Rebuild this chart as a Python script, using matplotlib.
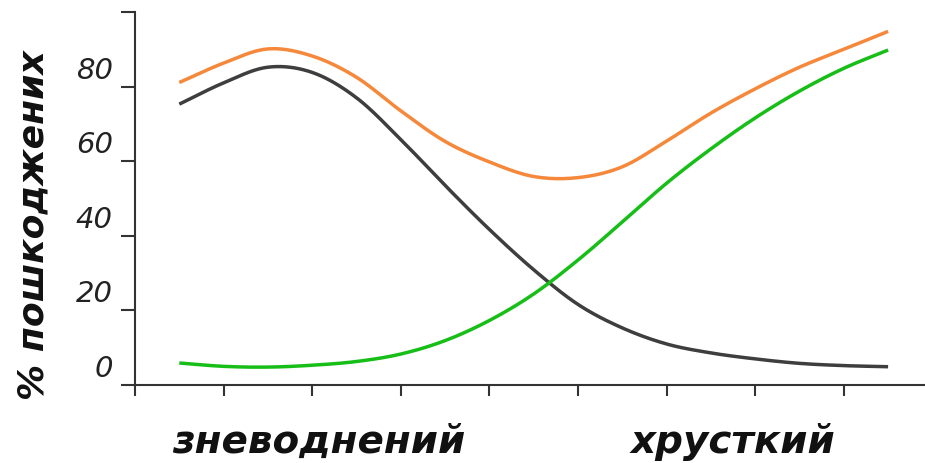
import numpy as np
import matplotlib
matplotlib.use("Agg")
import matplotlib.pyplot as plt
from matplotlib.transforms import ScaledTranslation

# ---------------------------------------------------------
# DATA
# x in tick units: 0 .. 8 are the unlabeled x ticks
# ---------------------------------------------------------
x_pos = [0.5, 1.0, 1.5, 2.0, 2.5, 3.0, 3.5, 4.0, 4.5,
         5.0, 5.5, 6.0, 6.5, 7.0, 7.5, 8.0, 8.5]

orange_vals = [81.1, 86.3, 90.1, 88.2, 82.5, 73.5, 65.3, 59.8, 55.9,
               55.6, 58.5, 65.4, 72.9, 79.4, 85.2, 90.0, 94.8]
black_vals = [75.3, 81.0, 85.2, 83.8, 77.0, 65.8, 53.5, 41.7, 30.9,
              21.6, 15.3, 11.0, 8.6, 7.0, 5.8, 5.2, 4.9]
green_vals = [5.9, 5.0, 4.8, 5.3, 6.3, 8.3, 11.9, 17.3, 24.4,
              33.5, 43.7, 54.1, 63.3, 71.6, 78.8, 84.9, 89.8]

y_ticks = [0, 20, 40, 60, 80, 100]
y_tick_labels = ["0", "20", "40", "60", "80", ""]
x_ticks = [0, 1, 2, 3, 4, 5, 6, 7, 8]

y_title = "% пошкоджених"
left_label = "зневоднений"
right_label = "хрусткий"

ORANGE = "#F5883A"
BLACK = "#3E3E3E"
GREEN = "#18BE18"
AXIS = "#333333"

FONT = ["DejaVu Sans"]


def smooth(xs, ys, n=20):
    # Catmull-Rom curve through the read points (drawing only)
    xs = np.asarray(xs, float)
    ys = np.asarray(ys, float)
    px = np.concatenate([[2 * xs[0] - xs[1]], xs, [2 * xs[-1] - xs[-2]]])
    py = np.concatenate([[2 * ys[0] - ys[1]], ys, [2 * ys[-1] - ys[-2]]])
    out_x, out_y = [], []
    t = np.linspace(0, 1, n, endpoint=False)
    for i in range(1, len(px) - 2):
        for arr, out in ((px, out_x), (py, out_y)):
            p0, p1, p2, p3 = arr[i - 1], arr[i], arr[i + 1], arr[i + 2]
            out.extend(0.5 * (2 * p1 + (-p0 + p2) * t
                              + (2 * p0 - 5 * p1 + 4 * p2 - p3) * t ** 2
                              + (-p0 + 3 * p1 - 3 * p2 + p3) * t ** 3))
    out_x.append(xs[-1])
    out_y.append(ys[-1])
    return np.array(out_x), np.array(out_y)


fig = plt.figure(figsize=(9.25, 4.63), dpi=100, facecolor="white")
ax = fig.add_axes([135 / 925, 1 - 385 / 463, 1 - 135 / 925, (385 - 12) / 463])

for vals, col in ((orange_vals, ORANGE), (black_vals, BLACK), (green_vals, GREEN)):
    sx, sy = smooth(x_pos, vals)
    ax.plot(sx, sy, color=col, linewidth=2.5, solid_capstyle="butt")

ax.set_xlim(0, (925 - 135) / 88.6)
ax.set_ylim(0, 100)

for side in ("top", "right"):
    ax.spines[side].set_visible(False)
for side in ("left", "bottom"):
    ax.spines[side].set_color(AXIS)
    ax.spines[side].set_linewidth(1.5)

ax.set_xticks(x_ticks)
ax.set_xticklabels([])
ax.tick_params(axis="x", direction="out", length=8, width=1.5, color=AXIS)

ax.set_yticks(y_ticks)
ax.set_yticklabels(y_tick_labels, fontsize=21, style="italic",
                   family=FONT, color="#222222")
ax.tick_params(axis="y", direction="out", length=10, width=1.5, color=AXIS, pad=6)
shift = ScaledTranslation(0, 19 / 100, fig.dpi_scale_trans)
for lab in ax.get_yticklabels():
    lab.set_transform(lab.get_transform() + shift)

fig.text(33 / 925, 1 - 225 / 463, y_title, rotation=90, ha="center", va="center",
         fontsize=26, fontweight="bold", style="italic", family=FONT, color="#111111")
fig.text(319 / 925, 1 - 453 / 463, left_label, ha="center", va="baseline",
         fontsize=28, fontweight="bold", style="italic", family=FONT, color="#111111")
fig.text(733 / 925, 1 - 453 / 463, right_label, ha="center", va="baseline",
         fontsize=28, fontweight="bold", style="italic", family=FONT, color="#111111")

fig.savefig("out.png", dpi=100, facecolor="white")
